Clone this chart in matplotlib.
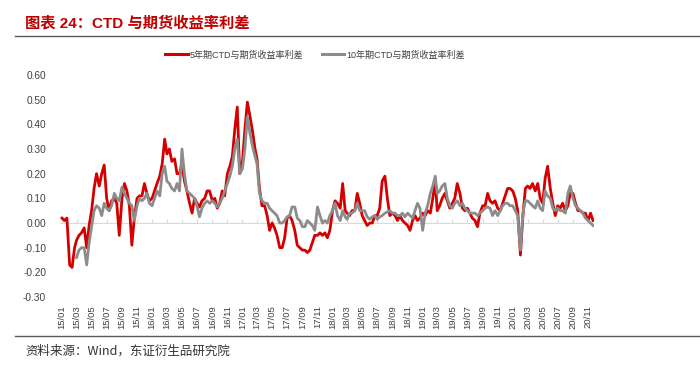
import numpy as np
import pandas as pd
import matplotlib
matplotlib.use("Agg")
import matplotlib.pyplot as plt
import matplotlib.dates as mdates
from matplotlib.lines import Line2D

plt.rcParams['font.family'] = ['Liberation Sans', 'Noto Sans CJK SC', 'DejaVu Sans']

# ---- data ----
title = "图表 24：CTD 与期货收益率利差"
source = "资料来源：Wind，东证衍生品研究院"
series_names = ["5年期CTD与期货收益率利差", "10年期CTD与期货收益率利差"]
y_ticks = [-0.30, -0.20, -0.10, 0.00, 0.10, 0.20, 0.30, 0.40, 0.50, 0.60]

start_month = "2015-01"
n_months = 71
sample_days = [1, 11, 21]

spread_5y = [
    0.02, 0.01, 0.02,
    -0.17, -0.18, -0.10,
    -0.07, -0.05, -0.04,
    -0.02, -0.10, -0.01,
    0.05, 0.14, 0.20,
    0.15, 0.20, 0.235,
    0.10, 0.05, 0.09,
    0.10, 0.08, -0.05,
    0.10, 0.16, 0.13,
    0.07, -0.09, 0.02,
    0.10, 0.11, 0.11,
    0.16, 0.12, 0.09,
    # 2016
    0.10, 0.13, 0.16,
    0.19, 0.24, 0.34,
    0.28, 0.30, 0.25,
    0.26, 0.20, 0.20,
    0.24, 0.17, 0.13,
    0.08, 0.04, 0.10,
    0.08, 0.065, 0.09,
    0.10, 0.13, 0.13,
    0.09, 0.10, 0.06,
    0.08, 0.13, 0.11,
    0.20, 0.23, 0.27,
    0.38, 0.47, 0.20,
    # 2017
    0.25, 0.38, 0.49,
    0.43, 0.37, 0.30,
    0.26, 0.14, 0.07,
    0.07, 0.03, -0.03,
    0.00, -0.02, -0.05,
    -0.10, -0.10, -0.06,
    0.02, 0.03, 0.01,
    -0.03, -0.09, -0.10,
    -0.11, -0.11, -0.12,
    -0.11, -0.08, -0.05,
    -0.05, -0.04, -0.05,
    -0.04, -0.06, -0.03,
    # 2018
    0.05, 0.09, 0.08,
    0.06, 0.16, 0.05,
    0.04, 0.03, 0.05,
    0.05, 0.12, 0.08,
    0.03, 0.01, -0.01,
    0.00, 0.00, 0.03,
    0.03, 0.06, 0.17,
    0.19, 0.10, 0.03,
    0.04, 0.03, 0.01,
    0.03, 0.01, 0.00,
    -0.01, -0.03, 0.01,
    0.03, 0.01, 0.02,
    # 2019
    0.04, 0.03, 0.05,
    0.04, 0.10, 0.17,
    0.05, 0.07, 0.10,
    0.12, 0.09, 0.06,
    0.08, 0.10, 0.16,
    0.12, 0.06, 0.05,
    0.06, 0.04, 0.02,
    0.01, -0.015, 0.04,
    0.07, 0.07, 0.12,
    0.09, 0.08, 0.09,
    0.06, 0.05, 0.08,
    0.11, 0.14, 0.14,
    # 2020
    0.13, 0.10, 0.05,
    -0.13, 0.03, 0.14,
    0.15, 0.14, 0.16,
    0.13, 0.16, 0.10,
    0.08, 0.18, 0.23,
    0.14, 0.08, 0.03,
    0.07, 0.06, 0.08,
    0.05, 0.07, 0.12,
    0.12, 0.08, 0.05,
    0.05, 0.04, 0.04,
    0.01, 0.04, 0.01,
]

spread_10y = [
    np.nan, np.nan, np.nan,
    np.nan, np.nan, np.nan,
    -0.14, -0.11, -0.10,
    -0.10, -0.17, -0.08,
    -0.015, 0.05, 0.07,
    0.06, 0.03, 0.08,
    0.06, 0.05, 0.07,
    0.12, 0.10, 0.09,
    0.145, 0.12, 0.10,
    0.08, 0.07, 0.01,
    0.07, 0.10, 0.09,
    0.10, 0.12, 0.08,
    # 2016
    0.07, 0.10, 0.13,
    0.11, 0.20, 0.23,
    0.17, 0.16, 0.14,
    0.13, 0.16, 0.13,
    0.30, 0.20, 0.13,
    0.12, 0.11, 0.10,
    0.07, 0.025, 0.06,
    0.08, 0.09, 0.08,
    0.09, 0.08, 0.065,
    0.08, 0.10, 0.13,
    0.16, 0.19, 0.23,
    0.30, 0.34, 0.20,
    # 2017
    0.22, 0.30, 0.43,
    0.36, 0.31, 0.27,
    0.24, 0.12, 0.09,
    0.08, 0.08, 0.06,
    0.05, 0.04, 0.03,
    0.00, 0.00, 0.01,
    0.025, 0.03, 0.065,
    0.065, 0.02, 0.01,
    -0.015, -0.015, 0.01,
    0.00, -0.01, -0.03,
    0.065, 0.03, 0.00,
    0.01, 0.00, 0.03,
    # 2018
    0.05, 0.08, 0.03,
    0.01, 0.05, 0.025,
    0.015, 0.04, 0.04,
    0.05, 0.08, 0.05,
    0.05, 0.05, 0.025,
    0.015, 0.025, 0.03,
    0.015, 0.025, 0.03,
    0.04, 0.045, 0.05,
    0.04, 0.04, 0.03,
    0.03, 0.04, 0.025,
    0.04, 0.03, 0.02,
    0.05, 0.08, 0.06,
    # 2019
    -0.03, 0.04, 0.07,
    0.12, 0.15, 0.19,
    0.12, 0.13, 0.15,
    0.16, 0.10, 0.07,
    0.06, 0.08, 0.09,
    0.07, 0.08, 0.06,
    0.05, 0.04, 0.04,
    0.04, 0.03, 0.04,
    0.05, 0.06, 0.065,
    0.06, 0.03, 0.05,
    0.03, 0.05, 0.07,
    0.08, 0.08, 0.07,
    # 2020
    0.07, 0.05, 0.03,
    -0.11, 0.04, 0.09,
    0.09, 0.08, 0.07,
    0.06, 0.09, 0.06,
    0.05, 0.13, 0.11,
    0.10, 0.06, 0.05,
    0.06, 0.05, 0.05,
    0.04, 0.12, 0.15,
    0.10, 0.07, 0.06,
    0.05, 0.04, 0.02,
    0.01, 0.00, -0.01,
]

# ---- dates ----
months = pd.date_range(start_month, periods=n_months, freq="MS")
dates = [m + pd.Timedelta(days=d - 1) for m in months for d in sample_days]

RED = "#D40000"
GREY = "#8C8C8C"

fig = plt.figure(figsize=(7.0, 3.66), dpi=100)
ax = fig.add_axes([60 / 700, 1 - 297 / 366, (594 - 60) / 700, (297 - 75) / 366])

ax.plot(dates, spread_5y, color=RED, lw=2.0, solid_joinstyle="round", zorder=3)
ax.plot(dates, spread_10y, color=GREY, lw=2.0, solid_joinstyle="round", zorder=4)

ax.set_ylim(-0.30, 0.60)
ax.set_yticks(y_ticks)
ax.set_yticklabels([f"{v:.2f}" for v in y_ticks])
ax.set_xlim(pd.Timestamp("2014-12-24"), pd.Timestamp("2020-11-25"))

ax.xaxis.set_major_locator(mdates.MonthLocator(bymonth=[1, 3, 5, 7, 9, 11]))
ax.xaxis.set_major_formatter(mdates.DateFormatter("%y/%m"))
ax.tick_params(axis="x", length=0, labelsize=6.8, labelcolor="#404040", rotation=90, pad=6)
ax.tick_params(axis="y", length=0, labelsize=7.3, labelcolor="#404040", pad=10)
for s in ax.spines.values():
    s.set_visible(False)

# zero axis line with tick marks
ax.axhline(0, color="#D9D9D9", lw=0.8, zorder=1)
sec = ax.secondary_xaxis((0 - (-0.30)) / 0.90)
sec.xaxis.set_major_locator(mdates.MonthLocator(bymonth=[1, 3, 5, 7, 9, 11]))
sec.tick_params(axis="x", direction="in", length=3, color="#D9D9D9", labelbottom=False, labeltop=False)
sec.spines["bottom"].set_visible(False)
sec.spines["top"].set_visible(False)
sec.set_xticklabels([])

# legend
handles = [Line2D([], [], color=RED, lw=2.2), Line2D([], [], color=GREY, lw=2.2)]
fig.legend(handles, series_names, loc="center", bbox_to_anchor=(315 / 700, 1 - 55 / 366),
           ncol=2, frameon=False, fontsize=6.5, handlelength=2.5, handletextpad=0.25,
           columnspacing=2.0, labelcolor="#404040")

# title, rules and source
fig.text(25 / 700, 1 - 23 / 366, title, color="#C00000", fontsize=11, fontweight="bold",
         ha="left", va="center", family=["Liberation Sans", "Noto Sans CJK SC"])
fig.add_artist(Line2D([15 / 700, 1.0], [1 - 36 / 366, 1 - 36 / 366], color="#595959", lw=1.0))
fig.add_artist(Line2D([15 / 700, 1.0], [1 - 336 / 366, 1 - 336 / 366], color="#595959", lw=1.0))
fig.text(25 / 700, 1 - 351 / 366, source, color="#333333", fontsize=9,
         ha="left", va="center", family=["Noto Sans CJK SC", "DejaVu Sans"])

fig.savefig("out.png", dpi=100)
